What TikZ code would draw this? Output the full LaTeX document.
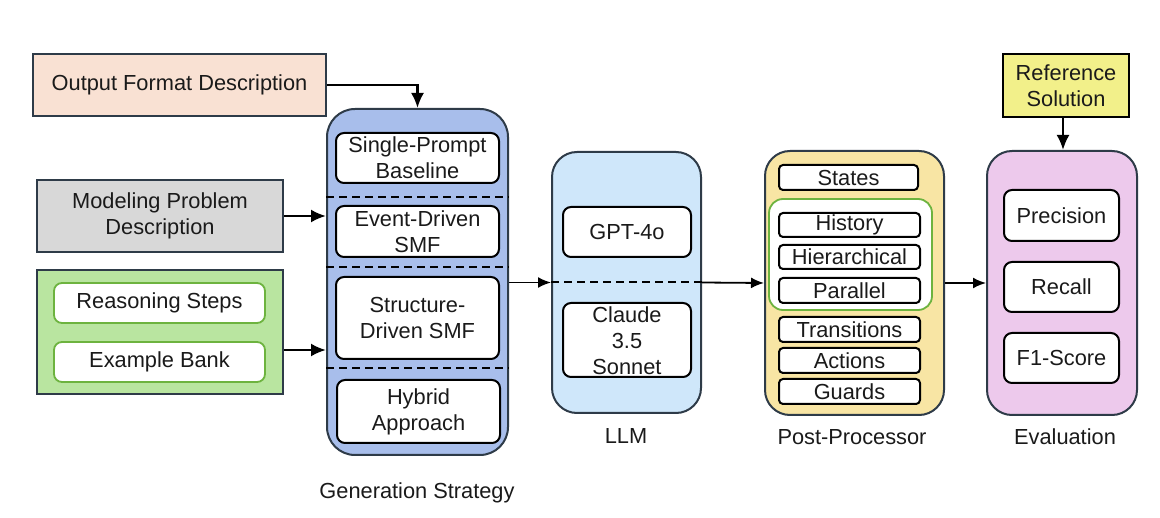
\documentclass[tikz,border=0pt]{standalone}
\usepackage{fontspec}
\setmainfont{Liberation Sans}
\usetikzlibrary{arrows.meta}
\definecolor{cpeach}{HTML}{F9E1D3}
\definecolor{cgray}{HTML}{D8D8D8}
\definecolor{cgreen}{HTML}{B9E5A0}
\definecolor{cgreenline}{HTML}{6DB33F}
\definecolor{cblue}{HTML}{A8BEEB}
\definecolor{clight}{HTML}{CFE7FA}
\definecolor{cyel}{HTML}{F8E5A4}
\definecolor{cpink}{HTML}{EDC9EC}
\definecolor{cref}{HTML}{F2F08A}
\definecolor{cedge}{HTML}{2E3B48}
\definecolor{ctext}{HTML}{1A1A1A}
\begin{document}
\begin{tikzpicture}[x=1pt,y=-1pt,
  every node/.style={font=\fontsize{21.8}{26}\selectfont, text=ctext, align=center, inner sep=0pt},
  plainbox/.style={draw=cedge, line width=2pt},
  group/.style={draw=cedge, line width=2pt, rounded corners=28pt},
  inbox/.style={draw=black, fill=white, line width=2pt, rounded corners=8pt},
  gbox/.style={draw=cgreenline, fill=white, line width=1.8pt, rounded corners=8pt},
  arr/.style={draw=black, line width=2.4pt, -{Latex[length=15pt,width=13pt]}},
  thinarr/.style={draw=black, line width=1.8pt, -{Latex[length=13pt,width=11pt]}},
  sep/.style={draw=black, line width=2pt, dash pattern=on 8pt off 5pt}]
\useasboundingbox (0,0) rectangle (1160,518);

% left inputs
\node[plainbox, fill=cpeach, minimum width=293, minimum height=62] (ofd) at (179.5,85) {Output Format Description};
\node[plainbox, fill=cgray, minimum width=246, minimum height=72] (mpd) at (160,216) {Modeling Problem\\Description};
\node[plainbox, fill=cgreen, minimum width=246, minimum height=124] (grn) at (160,332) {};
\node[gbox, minimum width=211, minimum height=40] (rs) at (159.5,303) {Reasoning Steps};
\node[gbox, minimum width=211, minimum height=40] (eb) at (159.5,362) {Example Bank};

% generation strategy
\node[group, fill=cblue, minimum width=181, minimum height=346] (gen) at (417.5,282) {};
\draw[sep] (gen.west |- 0,197) -- (gen.east |- 0,197);
\draw[sep] (gen.west |- 0,267) -- (gen.east |- 0,267);
\draw[sep] (gen.west |- 0,368) -- (gen.east |- 0,368);
\node[inbox, minimum width=163, minimum height=50] (sp) at (417.5,158) {Single-Prompt\\Baseline};
\node[inbox, minimum width=163, minimum height=51] (ed) at (417.5,231.5) {Event-Driven\\SMF};
\node[inbox, minimum width=163, minimum height=82] (sd) at (417.5,318) {Structure-\\Driven SMF};
\node[inbox, minimum width=163, minimum height=63] (hy) at (418.5,411.5) {Hybrid\\Approach};
\node (genlab) at (417,493) {Generation Strategy};

% LLM
\node[group, fill=clight, rounded corners=25pt, minimum width=149, minimum height=261] (llm) at (626.5,282.5) {};
\draw[sep] (llm.west) -- (llm.east);
\node[inbox, minimum width=128, minimum height=50] (gpt) at (627,232) {GPT-4o};
\node[inbox, minimum width=128, minimum height=74] (cl) at (627,340) {};
\node at (627,341) {Claude\\3.5\\Sonnet};
\node (llmlab) at (626,436) {LLM};

% post-processor
\node[group, fill=cyel, rounded corners=25pt, minimum width=179, minimum height=264] (pp) at (854.5,283) {};
\node[inbox, rounded corners=4pt, minimum width=139, minimum height=25] (st) at (848.5,177.5) {States};
\node[draw=cgreenline, fill=white, line width=1.8pt, rounded corners=14pt, minimum width=163, minimum height=111] (grp) at (850.5,254.5) {};
\node[inbox, rounded corners=4pt, minimum width=141, minimum height=24] (hi) at (849.5,225) {History};
\node[inbox, rounded corners=4pt, minimum width=141, minimum height=24] (he) at (849.5,257) {Hierarchical};
\node[inbox, rounded corners=4pt, minimum width=141, minimum height=25] (pa) at (849.5,290.5) {Parallel};
\node[inbox, rounded corners=4pt, minimum width=141, minimum height=25] (tr) at (849.5,329.5) {Transitions};
\node[inbox, rounded corners=4pt, minimum width=141, minimum height=25] (ac) at (849.5,360.5) {Actions};
\node[inbox, rounded corners=4pt, minimum width=141, minimum height=25] (gu) at (849.5,391.5) {Guards};
\node (pplab) at (852,437) {Post-Processor};

% evaluation
\node[group, fill=cpink, rounded corners=25pt, minimum width=150, minimum height=264] (ev) at (1062,283) {};
\node[inbox, minimum width=115, minimum height=51] (pr) at (1061.5,215.5) {Precision};
\node[inbox, minimum width=115, minimum height=50] (re) at (1061.5,287) {Recall};
\node[inbox, minimum width=115, minimum height=50] (f1) at (1061.5,358) {F1-Score};
\node (evlab) at (1065,437) {Evaluation};
\node[draw=black, line width=2pt, fill=cref, minimum width=126, minimum height=63] (ref) at (1066,85.5) {Reference\\Solution};

% connectors
\draw[arr] (ofd.east) -| (gen.north);
\draw[arr] (mpd.east) -- (gen.west |- mpd.east);
\draw[arr] ([yshift=-18pt]grn.east) -- (gen.west |- 0,350);
\draw[thinarr] (gen.east |- llm.west) -- (llm.west);
\draw[thinarr] (llm.east) -- (pp.west);
\draw[thinarr] (pp.east) -- (ev.west);
\draw[arr] (ref.south -| 1063,0) -- (ev.north -| 1063,0);
\end{tikzpicture}
\end{document}
